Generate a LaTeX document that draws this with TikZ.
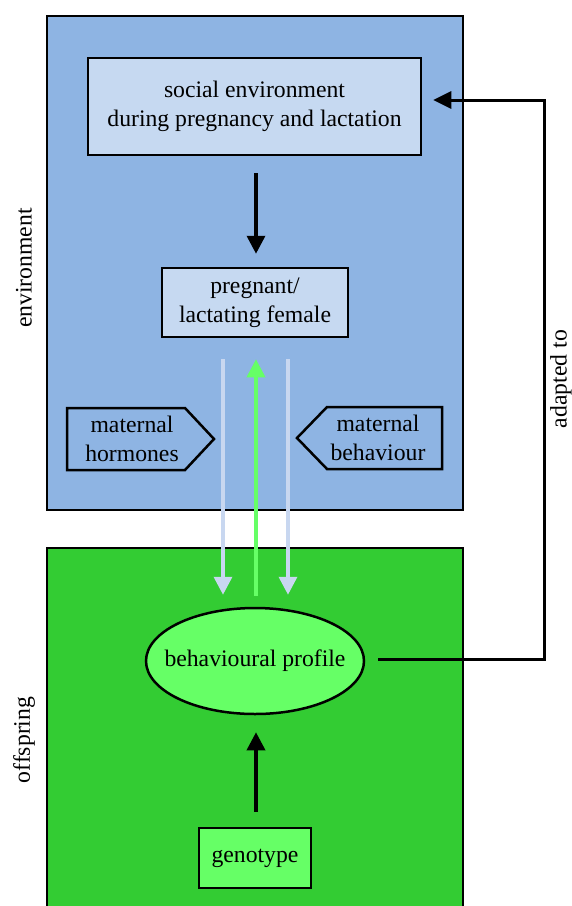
\documentclass[tikz,border=0pt]{standalone}
\usepackage{fontspec}
\setmainfont{Liberation Serif}
\usetikzlibrary{arrows.meta,shapes.geometric,calc}
\definecolor{envblue}{RGB}{142,180,227}
\definecolor{boxblue}{RGB}{198,217,241}
\definecolor{offgreen}{RGB}{51,204,51}
\definecolor{litegreen}{RGB}{102,255,102}
\definecolor{arrowblue}{RGB}{200,215,240}
\begin{document}
\begin{tikzpicture}[x=1pt,y=-1pt,
  every node/.style={font=\fontsize{23.7}{28.5}\selectfont, inner sep=0pt},
  panel/.style={draw=black, line width=2.5pt},
  bluebox/.style={draw=black, line width=2.5pt, fill=boxblue, align=center},
  greenbox/.style={draw=black, line width=2.5pt, fill=litegreen, align=center},
  blackarrow/.style={line width=3.5pt, -{Triangle[width=18pt,length=18pt]}},
  fbarrow/.style={line width=3pt, -{Triangle[width=17pt,length=18pt]}},
  palearrow/.style={draw=arrowblue, line width=3.5pt, -{Triangle[width=18pt,length=18pt]}},
  greenarrow/.style={draw=litegreen, line width=3.5pt, -{Triangle[width=18pt,length=18pt]}},
  pentagon/.style={draw=black, line width=2.5pt, fill=envblue, line join=miter}]
\useasboundingbox (0,0) rectangle (572,906);
\clip (0,0) rectangle (572,906);
\fill[white] (0,0) rectangle (572,906);
% panels
\draw[panel, fill=envblue] (47,16) rectangle (463,510);
\draw[panel, fill=offgreen] (47,548) rectangle (463,930);
% nodes
\node[bluebox, minimum width=333pt, minimum height=97pt] (social) at (254.5,106.5)
  {social environment\\during pregnancy and lactation};
\node[bluebox, minimum width=186pt, minimum height=69pt] (pregnant) at (255,302.5)
  {pregnant/\\lactating female};
\node[ellipse, draw=black, line width=2.5pt, fill=litegreen, inner xsep=-14pt, inner ysep=0pt, minimum width=218pt, minimum height=106pt] (beh) at (255,661)
  {behavioural profile};
\node[greenbox, minimum width=112pt, minimum height=60pt] (geno) at (255,858) {genotype};
% pentagons
\draw[pentagon] (67,408) -- (185,408) -- (214,439) -- (185,470) -- (67,470) -- cycle;
\node[align=center] (hormones) at (132,439) {maternal\\hormones};
\draw[pentagon] (442,407) -- (327,407) -- (297,438) -- (327,469) -- (442,469) -- cycle;
\node[align=center] (mbeh) at (378,438) {maternal\\behaviour};
% side labels
\node[rotate=90] (envlabel) at (24,268) {environment};
\node[rotate=90] (offlabel) at (24,740) {offspring};
\node[rotate=90] (adapted) at (561,379) {adapted to};
% connectors
\draw[blackarrow, shorten <=17pt, shorten >=13pt] ([xshift=1.5pt]social.south) -- ([xshift=1pt]pregnant.north);
\draw[palearrow, shorten <=21pt, shorten >=12pt] ([xshift=-32pt]pregnant.south) -- ([xshift=-32pt]pregnant.south |- beh.north);
\draw[palearrow, shorten <=21pt, shorten >=12pt] ([xshift=33pt]pregnant.south) -- ([xshift=33pt]pregnant.south |- beh.north);
\draw[greenarrow, shorten <=11pt, shorten >=21pt] ([xshift=1pt]beh.north) -- ([xshift=1pt]pregnant.south);
\draw[blackarrow, shorten <=15pt, shorten >=17pt] ([xshift=1pt]geno.north) -- ([xshift=1pt]beh.south);
\coordinate (fbtop) at (544,100);
\draw[fbarrow, shorten <=13pt, shorten >=11pt, line join=miter] ([yshift=2pt]beh.east) -- ([yshift=2pt]beh.east -| fbtop) -- (fbtop) -- (fbtop -| social.east);
\end{tikzpicture}
\end{document}
